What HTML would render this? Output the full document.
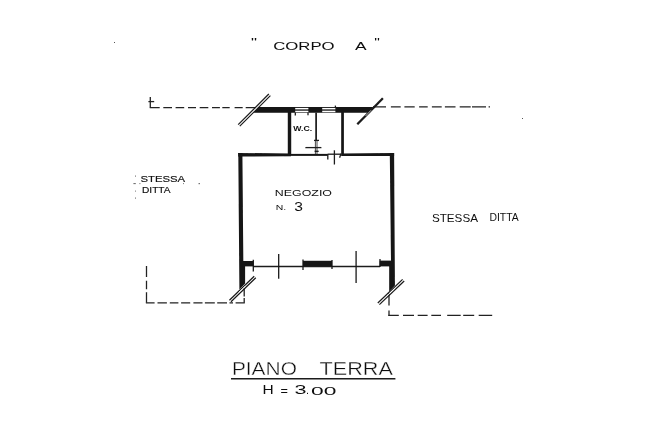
<!DOCTYPE html>
<html lang="it">
<head>
<meta charset="utf-8">
<title>Corpo A - Piano Terra</title>
<style>
html,body{margin:0;padding:0;background:#fff;}
body{width:651px;height:422px;overflow:hidden;}
svg{display:block;}
text{font-family:"Liberation Sans",sans-serif;fill:#111;}
.thin{stroke:#fff;stroke-width:0.35px;}
.hv{stroke:#111;stroke-width:0.15px;}
</style>
</head>
<body>
<svg width="651" height="422" viewBox="0 0 651 422">
<defs><filter id="scan" x="0" y="0" width="651" height="422" filterUnits="userSpaceOnUse"><feGaussianBlur stdDeviation="0.35"/></filter></defs>
<rect x="0" y="0" width="651" height="422" fill="#ffffff"/>
<g filter="url(#scan)">

<!-- dashed boundary lines -->
<g stroke="#222" stroke-width="1.3" fill="none" stroke-linecap="butt">
  <!-- top-left L marker -->
  <path d="M150.3 96.9 V107.7"/>
  <path d="M148.4 101.6 H154.2"/>
  <!-- top-left dashed -->
  <path d="M149.8 107.7 H159.7 M163.3 107.7 H172 M175.6 107.7 H184.2 M188 107.7 H196 M199.7 107.7 H208.3 M212 107.7 H219.9 M222.3 107.7 H229.7 M234.6 107.7 H242.7 M245.7 107.7 H255.5"/>
  <!-- top-right dashed -->
  <path d="M373 106.9 H386 M390.9 106.9 H400.7 M404.4 106.9 H414.7 M419.1 106.9 H427.7 M431.9 106.9 H441.7 M444.9 106.9 H455.5 M459.7 106.9 H470.7 M472 106.9 H486 M488.6 106.9 H490"/>
  <!-- bottom-left dashed -->
  <path d="M146.5 266 V277 M146.5 280.7 V289.3 M146.5 292.3 V302.8"/>
  <path d="M145.9 302.8 H154.6 M157.5 302.8 H166.9 M169.8 302.8 H178.4 M181.1 302.8 H190.2 M193.4 302.8 H202.5 M204.9 302.8 H214.8 M217.2 302.8 H227 M229.5 302.8 H233 M235.6 302.8 H244.8"/>
  <path d="M244.2 288 V296.5 M244.2 298 V302.8"/>
  <!-- bottom-right dashed -->
  <path d="M389 293 V305.5 M389 310.4 V315.9"/>
  <path d="M388.4 315.3 H398.8 M403 315.3 H414 M417.7 315.3 H427.6 M431.3 315.3 H441 M447.2 315.3 H460.7 M463.2 315.3 H474.2 M478.7 315.3 H492.2"/>
</g>

<!-- walls -->
<g fill="#141414" stroke="none">
  <!-- top (rear) wall -->
  <polygon points="258.6,107.1 373.4,107.1 368.2,112.8 253.6,112.8"/>
  <!-- WC walls -->
  <rect x="287.8" y="112" width="3.4" height="42.5"/>
  <rect x="341.2" y="112" width="2.7" height="42.5"/>
  <!-- main room: top -->
  <polygon points="238.2,152.9 291,153.6 291,156.2 238.2,156.6"/>
  <rect x="290" y="153.9" width="37.6" height="2"/>
  <polygon points="341.2,153.4 394.1,152.9 394.1,156 341.2,156"/>
  <!-- main room: left wall -->
  <polygon points="238.3,152.9 242.4,152.9 243.3,261 245.1,261.5 245.1,283.5 239.4,289.5"/>
  <!-- left stub -->
  <rect x="243" y="261" width="10.4" height="5.4"/>
  <!-- main room: right wall -->
  <polygon points="389.8,152.9 394.1,152.9 394.9,285.6 389.2,291.6 389.2,261.5 391,261"/>
  <!-- right stub -->
  <rect x="379.6" y="260.6" width="11.8" height="5.8"/>
  <!-- centre pier -->
  <rect x="303" y="260.8" width="29" height="5.8"/>
</g>

<!-- windows in the rear wall -->
<g>
  <rect x="295.2" y="107.9" width="13.2" height="1.5" fill="#fff"/>
  <rect x="295.2" y="110.7" width="13.2" height="1.5" fill="#fff"/>
  <rect x="322.2" y="107.9" width="13.2" height="1.5" fill="#fff"/>
  <rect x="322.2" y="110.7" width="13.2" height="1.5" fill="#fff"/>
</g>

<!-- thin lines -->
<g stroke="#1a1a1a" stroke-width="1.3" fill="none">
  <!-- window ticks -->
  <path d="M295.3 112.5 V115.6 M308 112.5 V115.2"/>
  <path d="M335.4 105.6 V108"/>
  <!-- WC partition -->
  <path d="M316.1 112.5 V140.4" stroke-width="1.7"/>
  <path d="M315.4 140.4 V154.5 M317 140.4 V154.5" stroke-width="0.8"/>
  <path d="M314 140.4 H319"/>
  <path d="M305.4 147.6 H321.4"/>
  <path d="M314.6 151.3 H318.7"/>
  <!-- WC door -->
  <path d="M327.6 154.2 H341"/>
  <path d="M327.8 154 V159.5"/>
  <path d="M334.4 150.3 V164.5"/>
  <path d="M341 153.6 L339.6 157.8"/>
  <!-- front -->
  <path d="M253 266.5 H380"/>
  <path d="M253.3 259.8 V271.5"/>
  <path d="M380 259 V267"/>
  <path d="M278.7 254 V278.7"/>
  <path d="M356.1 251 V283"/>
  <path d="M303 259.5 V270 M332 260 V269"/>
</g>

<!-- diagonal break marks -->
<g stroke="#1a1a1a" stroke-width="1.2" fill="none">
  <path d="M238.2 124.6 L268.8 94"/>
  <path d="M239.8 126.2 L270.4 95.6"/>
  <path d="M357.3 124.2 L382.9 98.3" stroke-width="2.3"/>
  <path d="M229.4 300.2 L254.2 276.2"/>
  <path d="M231 301.8 L255.8 277.8"/>
  <path d="M377.8 303 L402.6 279.4"/>
  <path d="M379.4 304.6 L404.2 281"/>
</g>
<!-- white gap between diagonals where they cut the walls -->
<g stroke="#fff" stroke-width="0.9" fill="none">
    <path d="M365.5 116 L371 110.3" stroke-width="0.7"/>
  <path d="M238.6 292.5 L245.4 286"/>
  <path d="M387.5 295.4 L395 288.2"/>
</g>

<!-- lettering -->
<g>
  <text x="251" y="45.5" font-size="11" textLength="6" lengthAdjust="spacingAndGlyphs">"</text>
  <text x="273.2" y="50.3" font-size="11.3" textLength="61.4" lengthAdjust="spacingAndGlyphs">CORPO</text>
  <text x="355" y="50.3" font-size="11.3" textLength="11.6" lengthAdjust="spacingAndGlyphs">A</text>
  <text x="374.2" y="45.5" font-size="11" textLength="5.6" lengthAdjust="spacingAndGlyphs">"</text>

  <text x="293.3" y="131.4" font-size="7.8" font-weight="bold" textLength="18.8" lengthAdjust="spacingAndGlyphs">W.C.</text>

  <text class="hv" x="140.4" y="181.5" font-size="8.6" textLength="44.8" lengthAdjust="spacingAndGlyphs">STESSA</text>
  <text class="hv" x="142" y="193.4" font-size="8.6" textLength="28.5" lengthAdjust="spacingAndGlyphs">DITTA</text>

  <text x="274.8" y="196" font-size="9.6" textLength="57.2" lengthAdjust="spacingAndGlyphs">NEGOZIO</text>
  <text x="275.8" y="210.2" font-size="7" textLength="10.4" lengthAdjust="spacingAndGlyphs">N.</text>
  <text x="294.3" y="210.6" font-size="13.2" textLength="8.7" lengthAdjust="spacingAndGlyphs">3</text>

  <text x="431.9" y="221.8" font-size="10.8" textLength="46.1" lengthAdjust="spacingAndGlyphs">STESSA</text>
  <text x="489.5" y="221" font-size="10" textLength="29.2" lengthAdjust="spacingAndGlyphs">DITTA</text>

  <text class="thin" x="231.9" y="375.3" font-size="18.5" textLength="65" lengthAdjust="spacingAndGlyphs">PIANO</text>
  <text class="thin" x="319.6" y="375.2" font-size="19" textLength="73.3" lengthAdjust="spacingAndGlyphs">TERRA</text>
  <text x="262.6" y="393.9" font-size="13.4" textLength="11.2" lengthAdjust="spacingAndGlyphs">H</text>
  <text x="280.6" y="394.6" font-size="13" textLength="7.4" lengthAdjust="spacingAndGlyphs">=</text>
  <text x="294.4" y="394" font-size="13.4" textLength="12" lengthAdjust="spacingAndGlyphs">3</text>
  <text x="306" y="394.4" font-size="11" textLength="3" lengthAdjust="spacingAndGlyphs">.</text>
  <text x="311.1" y="394.5" font-size="11" textLength="25.4" lengthAdjust="spacingAndGlyphs">00</text>
</g>
<path d="M231 378.7 H395.4" stroke="#1c1c1c" stroke-width="1.4" fill="none"/>

<!-- scan specks -->
<g fill="#555">
  <rect x="133.4" y="183.2" width="2.4" height="0.9"/>
  <rect x="139.4" y="183.2" width="1" height="0.9"/>
  <rect x="183" y="183.2" width="0.9" height="0.9"/>
  <rect x="198.6" y="183" width="1.2" height="1.2"/>
  <rect x="135" y="175.5" width="0.8" height="1.2"/>
  <rect x="135" y="190.6" width="0.8" height="1"/>
  <rect x="135" y="197.5" width="0.8" height="1.2"/>
  <rect x="114" y="42" width="1" height="1"/>
  <rect x="522" y="118" width="1" height="1"/>
</g>
</g>
</svg>
</body>
</html>
